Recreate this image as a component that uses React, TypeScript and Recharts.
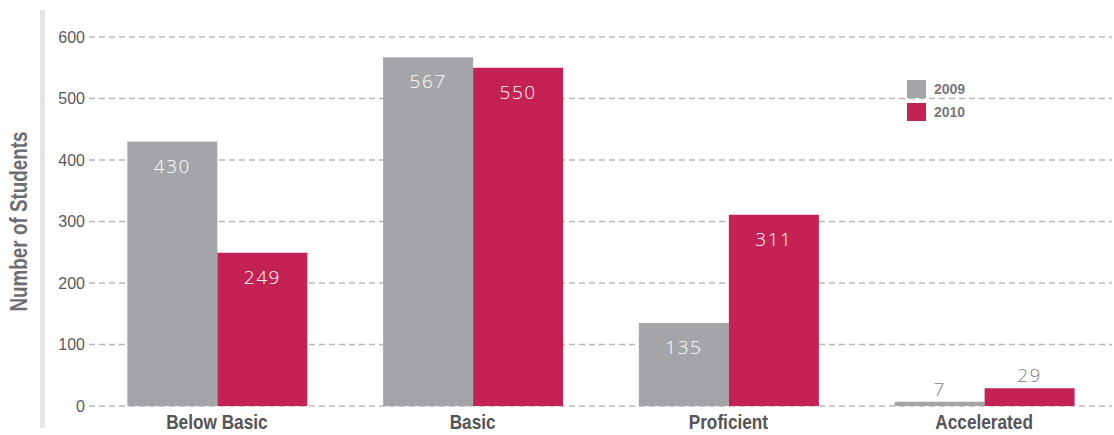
import { BarChart, Bar, XAxis, YAxis, CartesianGrid, LabelList } from 'recharts';

const categories = ['Below Basic', 'Basic', 'Proficient', 'Accelerated'];
const values2009 = [430, 567, 135, 7];
const values2010 = [249, 550, 311, 29];
const yTicks = [0, 100, 200, 300, 400, 500, 600];

const GRAY = '#a4a5a9';
const RED = '#c42254';
const SANS = "'Liberation Sans', Arial, sans-serif";

const chartData = categories.map((name, i) => ({
  name,
  y2009: values2009[i],
  y2010: values2010[i],
}));

// value label: inside the bar top when tall enough, above it otherwise
function ValueLabel(props: any) {
  const { x, y, width, value } = props;
  const inside = value >= 50;
  return (
    <text
      x={x + width / 2}
      y={inside ? y + 24 : y - 13}
      textAnchor="middle"
      dominantBaseline="central"
      fill={inside ? '#ffffff' : '#808184'}
      fontFamily="'Open Sans', sans-serif"
      fontWeight={300}
      fontSize={19}
      letterSpacing={1.5}
    >
      {value}
    </text>
  );
}

// condensed bold category label (no narrow font installed, so squeeze it)
function CategoryTick(props: any) {
  const { x, y, payload } = props;
  return (
    <text
      transform={`translate(${x} ${y + 15}) scale(0.82 1)`}
      textAnchor="middle"
      fontFamily={SANS}
      fontWeight="bold"
      fontSize={21}
      fill="#545557"
    >
      {payload.value}
    </text>
  );
}

function LegendBox() {
  const items = [
    { label: '2009', color: GRAY },
    { label: '2010', color: RED },
  ];
  return (
    <div style={{ position: 'absolute', left: 907, top: 80, display: 'flex', flexDirection: 'column', gap: 5 }}>
      {items.map((it) => (
        <div key={it.label} style={{ display: 'flex', alignItems: 'center', height: 18 }}>
          <span style={{ display: 'inline-block', width: 19, height: 18, background: it.color }} />
          <span
            style={{
              marginLeft: 8,
              fontFamily: SANS,
              fontWeight: 'bold',
              fontSize: 14,
              color: '#77787b',
            }}
          >
            {it.label}
          </span>
        </div>
      ))}
    </div>
  );
}

export default function App() {
  return (
    <div style={{ position: 'absolute', left: 0, top: 0, width: 1114, height: 435, background: '#fff' }}>
      <div
        style={{ position: 'absolute', left: 40, top: 10, width: 5, height: 418, background: '#e6e6e7' }}
      />
      <BarChart
        width={1114}
        height={435}
        data={chartData}
        margin={{ top: 37, right: 2, left: 0, bottom: 0 }}
        barCategoryGap="15%"
        barGap={0}
      >
        <CartesianGrid
          vertical={false}
          stroke="#b8b8b8"
          strokeWidth={1.5}
          strokeDasharray="6 4"
        />
        <XAxis
          dataKey="name"
          axisLine={false}
          tickLine={false}
          height={29}
          interval={0}
          tick={<CategoryTick />}
        />
        <YAxis
          width={89}
          domain={[0, 600]}
          ticks={yTicks}
          axisLine={false}
          tickLine={false}
          tickSize={0}
          tickMargin={4}
          tick={{ fontFamily: SANS, fontSize: 16, fill: '#58595b' }}
          label={{
            content: ({ viewBox }: any) => {
              const cx = viewBox.x + 19;
              const cy = viewBox.y + viewBox.height / 2;
              return (
                <text
                  transform={`translate(${cx} ${cy}) rotate(-90) scale(0.82 1)`}
                  textAnchor="middle"
                  dominantBaseline="central"
                  fontFamily={SANS}
                  fontWeight="bold"
                  fontSize={23}
                  fill="#6d6e71"
                >
                  Number of Students
                </text>
              );
            },
          }}
        />
        <Bar dataKey="y2009" fill={GRAY} isAnimationActive={false}>
          <LabelList dataKey="y2009" content={ValueLabel} />
        </Bar>
        <Bar dataKey="y2010" fill={RED} isAnimationActive={false}>
          <LabelList dataKey="y2010" content={ValueLabel} />
        </Bar>
      </BarChart>
      <LegendBox />
    </div>
  );
}
